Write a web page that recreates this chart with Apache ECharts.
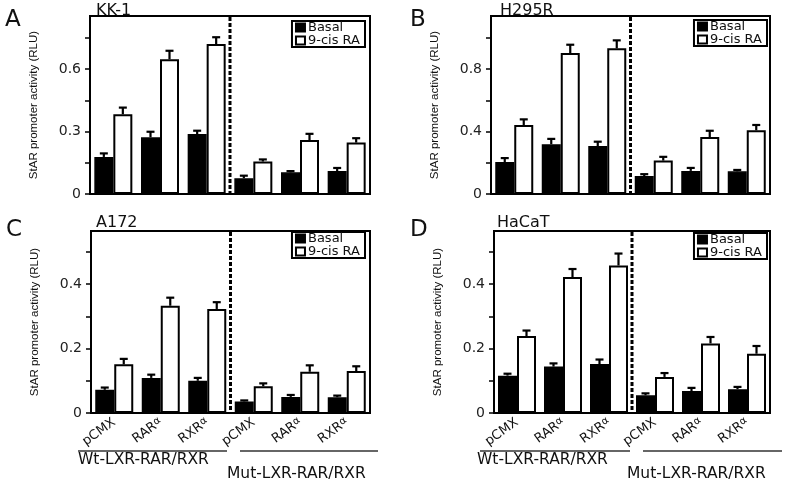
<!DOCTYPE html>
<html>
<head>
<meta charset="utf-8">
<script src="https://cdn.jsdelivr.net/npm/echarts@6/dist/echarts.min.js"></script>
<style>html,body{margin:0;padding:0;background:#fff}#c{width:800px;height:480px}</style>
</head>
<body>
<div id="c"></div>
<script>
// ---- data ----
const categories = ['pCMX', 'RARα', 'RXRα', 'pCMX', 'RARα', 'RXRα'];
const seriesNames = ['Basal', '9-cis RA'];
const panelTitles = ['KK-1', 'H295R', 'A172', 'HaCaT'];
const panelLetters = ['A', 'B', 'C', 'D'];

// Panel A (KK-1)
const basalA = [0.178, 0.273, 0.288, 0.076, 0.104, 0.110];
const basalUpA = [0.195, 0.299, 0.304, 0.088, 0.110, 0.125];
const raA = [0.383, 0.647, 0.720, 0.156, 0.259, 0.247];
const raUpA = [0.415, 0.688, 0.753, 0.166, 0.289, 0.268];
// Panel B (H295R)
const basalB = [0.205, 0.319, 0.307, 0.115, 0.148, 0.145];
const basalUpB = [0.230, 0.353, 0.335, 0.127, 0.167, 0.154];
const raB = [0.442, 0.903, 0.933, 0.214, 0.365, 0.408];
const raUpB = [0.478, 0.956, 0.984, 0.238, 0.405, 0.442];
// Panel C (A172)
const basalC = [0.072, 0.109, 0.100, 0.036, 0.050, 0.049];
const basalUpC = [0.079, 0.119, 0.109, 0.039, 0.056, 0.054];
const raC = [0.151, 0.333, 0.323, 0.083, 0.128, 0.130];
const raUpC = [0.168, 0.358, 0.344, 0.092, 0.148, 0.145];
// Panel D (HaCaT)
const basalD = [0.116, 0.144, 0.152, 0.055, 0.068, 0.074];
const basalUpD = [0.122, 0.154, 0.166, 0.061, 0.078, 0.081];
const raD = [0.239, 0.422, 0.458, 0.112, 0.216, 0.184];
const raUpD = [0.256, 0.447, 0.495, 0.124, 0.236, 0.208];

// axis tick labels
const yLabelsA = [0, 0.3, 0.6];
const yTicksA = [0, 0.15, 0.3, 0.45, 0.6, 0.75];
const yLabelsB = [0, 0.4, 0.8];
const yTicksB = [0, 0.2, 0.4, 0.6, 0.8, 1.0];
const yLabelsC = [0, 0.2, 0.4];
const yTicksC = [0, 0.1, 0.2, 0.3, 0.4, 0.5];
const yLabelsD = [0, 0.2, 0.4];
const yTicksD = [0, 0.1, 0.2, 0.3, 0.4, 0.5];
const yMax = [0.855, 1.14, 0.565, 0.565];
const groupLabels = ['Wt-LXR-RAR/RXR', 'Mut-LXR-RAR/RXR'];

// ---- layout ----
const FONT = 'Liberation Sans, Arial, sans-serif';
const WIDE = 'DejaVu Sans, sans-serif';
const BW = 19;
const grids = [
  {left: 90, top: 16, width: 280, height: 178},
  {left: 491, top: 16, width: 279, height: 178},
  {left: 91, top: 231, width: 279, height: 182},
  {left: 494, top: 231, width: 276, height: 182}
];
const panels = [
  {basal: basalA, basalUp: basalUpA, ra: raA, raUp: raUpA, labels: yLabelsA, ticks: yTicksA},
  {basal: basalB, basalUp: basalUpB, ra: raB, raUp: raUpB, labels: yLabelsB, ticks: yTicksB},
  {basal: basalC, basalUp: basalUpC, ra: raC, raUp: raUpC, labels: yLabelsC, ticks: yTicksC},
  {basal: basalD, basalUp: basalUpD, ra: raD, raUp: raUpD, labels: yLabelsD, ticks: yTicksD}
];

function errSeries(gi, vals, ups, sign) {
  return {
    type: 'custom', xAxisIndex: gi, yAxisIndex: gi, z: 5, silent: true,
    data: vals.map((v, i) => [i, v, ups[i]]),
    renderItem: function (params, api) {
      const i = api.value(0);
      const p0 = api.coord([i, api.value(1)]);
      const p1 = api.coord([i, api.value(2)]);
      const x = p0[0] + sign * BW / 2;
      return {type: 'group', children: [
        {type: 'line', shape: {x1: x, y1: p0[1], x2: x, y2: p1[1]}, style: {stroke: '#000', lineWidth: 2.2}},
        {type: 'line', shape: {x1: x - 4, y1: p1[1], x2: x + 4, y2: p1[1]}, style: {stroke: '#000', lineWidth: 2.2}}
      ]};
    }
  };
}
function dividerSeries(gi) {
  return {
    type: 'custom', xAxisIndex: gi, yAxisIndex: gi, z: 6, silent: true,
    data: [[0, 0]],
    renderItem: function (params, api) {
      const a = api.coord([2, 0]);
      const b = api.coord([3, 0]);
      const x = (a[0] + b[0]) / 2;
      const cs = params.coordSys;
      return {type: 'line', shape: {x1: x, y1: cs.y + 1, x2: x, y2: cs.y + cs.height - 1},
        style: {stroke: '#000', lineWidth: 3, lineDash: [4, 2]}};
    }
  };
}

const option = {
  animation: false,
  backgroundColor: '#fff',
  textStyle: {fontFamily: FONT},
  title: [],
  grid: grids.map(g => Object.assign({show: true, borderColor: '#000', borderWidth: 2, containLabel: false}, g)),
  xAxis: grids.map((g, gi) => ({
    type: 'category', gridIndex: gi, data: categories,
    axisLine: {lineStyle: {color: '#000', width: 2}},
    axisTick: {alignWithLabel: true, length: 5, lineStyle: {color: '#000', width: 1.5}},
    axisLabel: {
      show: gi >= 2, rotate: 36, margin: 8, color: '#111', fontSize: 13, fontFamily: WIDE,
      formatter: v => v.replace('α', '{a|α}'),
      rich: {a: {fontSize: 10, fontFamily: WIDE, color: '#111', padding: [0, 0, 4, 0]}}
    },
    splitLine: {show: false}
  })),
  yAxis: grids.map((g, gi) => ({
    type: 'value', gridIndex: gi, min: 0, max: yMax[gi],
    name: 'StAR promoter activity (RLU)', nameLocation: 'middle', nameGap: 50,
    nameTextStyle: {fontSize: 11.5, color: '#111', fontFamily: FONT},
    axisLine: {show: true, lineStyle: {color: '#000', width: 2}},
    axisTick: {show: true, length: 5, customValues: panels[gi].ticks, lineStyle: {color: '#000', width: 1.5}},
    axisLabel: {customValues: panels[gi].labels, margin: 9, fontSize: 14, color: '#222', fontFamily: WIDE},
    splitLine: {show: false}
  })),
  legend: [
    {right: 435, top: 21}, {right: 33, top: 20}, {right: 435, top: 232}, {right: 33, top: 233}
  ].map(p => Object.assign({
    data: seriesNames, orient: 'vertical', itemGap: 0, itemWidth: 9, itemHeight: 8,
    padding: [0, 5, 0, 3], borderColor: '#000', borderWidth: 2, backgroundColor: '#fff',
    selectedMode: false, icon: 'rect',
    textStyle: {fontSize: 13, color: '#111', fontFamily: WIDE, lineHeight: 10, padding: [0, 0, 0, -2]}
  }, p)),
  series: [],
  graphic: []
};

const titlePos = [[96, 3], [500, 3], [96, 215], [497, 215]];
const letterPos = [[5, 9], [410, 9], [6, 219], [410, 219]];
panelTitles.forEach((t, i) => {
  option.title.push({text: t, left: titlePos[i][0], top: titlePos[i][1], padding: 0,
    textStyle: {fontSize: 16, fontWeight: 'normal', color: '#111', fontFamily: WIDE}});
  option.title.push({text: panelLetters[i], left: letterPos[i][0], top: letterPos[i][1], padding: 0,
    textStyle: {fontSize: 23, fontWeight: 'normal', color: '#111', fontFamily: WIDE}});
});

panels.forEach((p, gi) => {
  option.series.push({
    name: seriesNames[0], type: 'bar', xAxisIndex: gi, yAxisIndex: gi, data: p.basal,
    barWidth: BW, barGap: '0%', itemStyle: {color: '#000', borderColor: '#000', borderWidth: 1.5}
  });
  option.series.push({
    name: seriesNames[1], type: 'bar', xAxisIndex: gi, yAxisIndex: gi, data: p.ra,
    barWidth: BW, barGap: '0%', itemStyle: {color: '#fff', borderColor: '#000', borderWidth: 2}
  });
  option.series.push(errSeries(gi, p.basal, p.basalUp, -1));
  option.series.push(errSeries(gi, p.ra, p.raUp, 1));
  option.series.push(dividerSeries(gi));
});

// group brackets under bottom panels
[[78, 227, 240, 378, 78, 227], [480, 630, 643, 782, 477, 627]].forEach(b => {
  option.graphic.push({type: 'line', shape: {x1: b[0], y1: 451, x2: b[1], y2: 451}, style: {stroke: '#333', lineWidth: 1.5}});
  option.graphic.push({type: 'line', shape: {x1: b[2], y1: 451, x2: b[3], y2: 451}, style: {stroke: '#333', lineWidth: 1.5}});
  option.graphic.push({type: 'text', left: b[4], top: 452, style: {text: groupLabels[0], font: '15.5px ' + WIDE, fill: '#111'}});
  option.graphic.push({type: 'text', left: b[5], top: 466, style: {text: groupLabels[1], font: '15.5px ' + WIDE, fill: '#111'}});
});

const chart = echarts.init(document.getElementById('c'), null, {renderer: 'canvas'});
chart.setOption(option);
</script>
</body>
</html>
